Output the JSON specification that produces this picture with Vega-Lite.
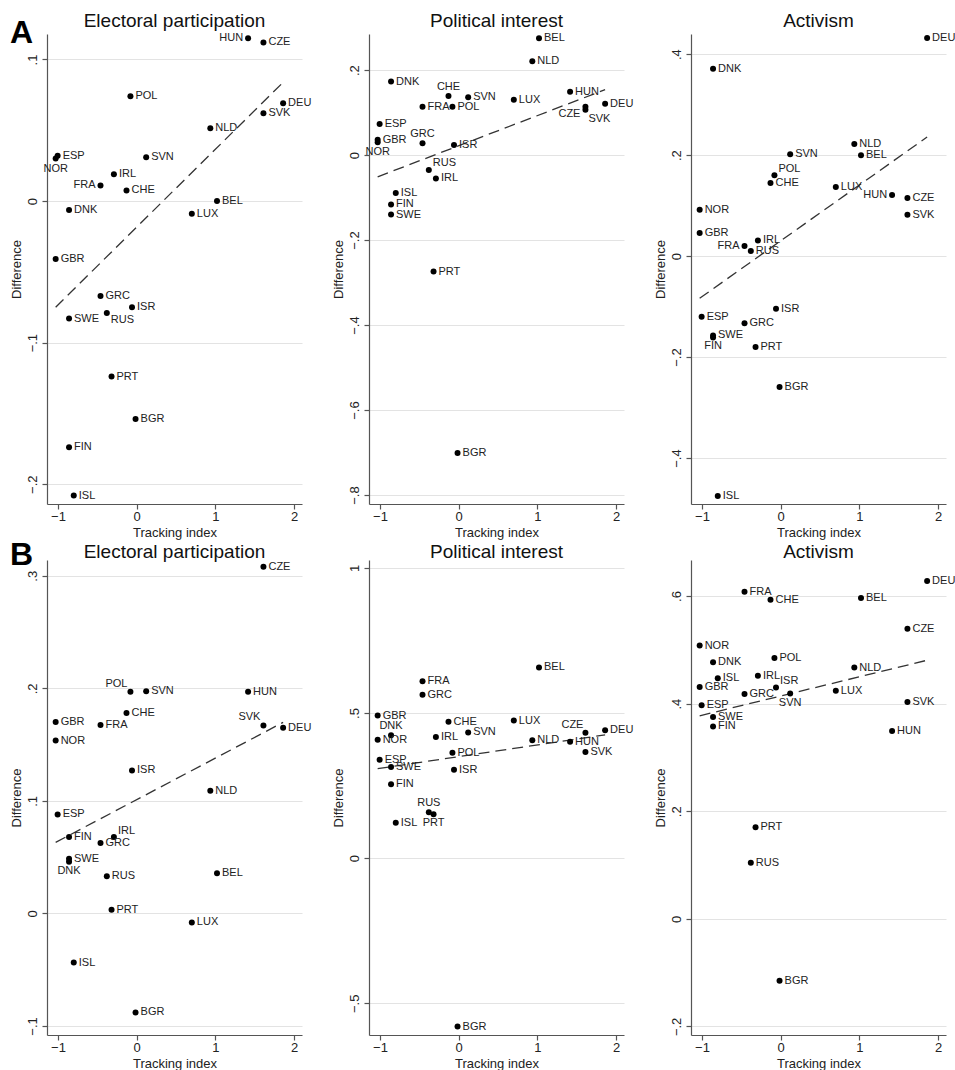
{
  "$schema": "https://vega.github.io/schema/vega-lite/v6.json",
  "background": "white",
  "padding": {"left": 10, "top": 12, "right": 0, "bottom": 0},
  "datasets": {
    "d": [
      {"c": "BEL", "x": 1.02, "a1": 0.0, "a2": 0.275, "a3": 0.200, "b1": 0.0356, "b2": 0.657, "b3": 0.5965},
      {"c": "NLD", "x": 0.935, "a1": 0.0515, "a2": 0.221, "a3": 0.222, "b1": 0.109, "b2": 0.406, "b3": 0.467},
      {"c": "DNK", "x": -0.86, "a1": -0.0064, "a2": 0.173, "a3": 0.371, "b1": 0.046, "b2": 0.423, "b3": 0.477},
      {"c": "CHE", "x": -0.13, "a1": 0.0075, "a2": 0.139, "a3": 0.145, "b1": 0.178, "b2": 0.470, "b3": 0.593},
      {"c": "SVN", "x": 0.12, "a1": 0.031, "a2": 0.136, "a3": 0.202, "b1": 0.1975, "b2": 0.433, "b3": 0.419},
      {"c": "LUX", "x": 0.70, "a1": -0.009, "a2": 0.130, "a3": 0.137, "b1": -0.008, "b2": 0.474, "b3": 0.424},
      {"c": "HUN", "x": 1.415, "a1": 0.115, "a2": 0.149, "a3": 0.121, "b1": 0.197, "b2": 0.401, "b3": 0.349},
      {"c": "FRA", "x": -0.46, "a1": 0.011, "a2": 0.114, "a3": 0.020, "b1": 0.1675, "b2": 0.609, "b3": 0.608},
      {"c": "POL", "x": -0.08, "a1": 0.074, "a2": 0.114, "a3": 0.160, "b1": 0.197, "b2": 0.363, "b3": 0.485},
      {"c": "DEU", "x": 1.86, "a1": 0.069, "a2": 0.121, "a3": 0.432, "b1": 0.165, "b2": 0.441, "b3": 0.628},
      {"c": "CZE", "x": 1.61, "a1": 0.112, "a2": 0.114, "a3": 0.115, "b1": 0.308, "b2": 0.432, "b3": 0.539},
      {"c": "SVK", "x": 1.61, "a1": 0.062, "a2": 0.107, "a3": 0.082, "b1": 0.167, "b2": 0.3655, "b3": 0.403},
      {"c": "ESP", "x": -1.005, "a1": 0.032, "a2": 0.073, "a3": -0.120, "b1": 0.088, "b2": 0.339, "b3": 0.397},
      {"c": "GBR", "x": -1.03, "a1": -0.041, "a2": 0.036, "a3": 0.046, "b1": 0.170, "b2": 0.491, "b3": 0.431},
      {"c": "NOR", "x": -1.03, "a1": 0.030, "a2": 0.030, "a3": 0.092, "b1": 0.1536, "b2": 0.408, "b3": 0.508},
      {"c": "GRC", "x": -0.46, "a1": -0.067, "a2": 0.028, "a3": -0.133, "b1": 0.0625, "b2": 0.563, "b3": 0.418},
      {"c": "ISR", "x": -0.06, "a1": -0.075, "a2": 0.024, "a3": -0.104, "b1": 0.127, "b2": 0.305, "b3": 0.430},
      {"c": "RUS", "x": -0.38, "a1": -0.079, "a2": -0.035, "a3": 0.010, "b1": 0.033, "b2": 0.158, "b3": 0.104},
      {"c": "IRL", "x": -0.29, "a1": 0.019, "a2": -0.055, "a3": 0.031, "b1": 0.068, "b2": 0.417, "b3": 0.452},
      {"c": "ISL", "x": -0.80, "a1": -0.208, "a2": -0.089, "a3": -0.475, "b1": -0.0436, "b2": 0.122, "b3": 0.447},
      {"c": "FIN", "x": -0.86, "a1": -0.174, "a2": -0.116, "a3": -0.161, "b1": 0.068, "b2": 0.255, "b3": 0.3575},
      {"c": "SWE", "x": -0.86, "a1": -0.083, "a2": -0.140, "a3": -0.157, "b1": 0.0486, "b2": 0.314, "b3": 0.375},
      {"c": "PRT", "x": -0.32, "a1": -0.124, "a2": -0.274, "a3": -0.180, "b1": 0.0032, "b2": 0.151, "b3": 0.170},
      {"c": "BGR", "x": -0.015, "a1": -0.154, "a2": -0.701, "a3": -0.259, "b1": -0.088, "b2": -0.580, "b3": -0.115}
    ]
  },
  "data": {"name": "d"},
  "spacing": 0,
  "vconcat": [
    {
      "title": {"text": "A", "anchor": "start", "frame": "bounds", "fontSize": 32, "fontWeight": "bold", "color": "#000", "offset": -63, "baseline": "alphabetic"},
      "spacing": 67,
      "bounds": "flush",
      "hconcat": [
        {
          "width": 255, "height": 470,
          "title": {"text": "Electoral participation", "offset": 1},
          "encoding": {
            "x": {"field": "x", "type": "quantitative", "scale": {"domain": [-1.14, 2.1], "nice": false, "zero": false}, "axis": {"title": "Tracking index", "values": [-1, 0, 1, 2], "format": "~g"}},
            "y": {"field": "a1", "type": "quantitative", "scale": {"domain": [-0.214, 0.118], "nice": false, "zero": false}, "axis": {"title": "Difference", "values": [-0.2, -0.1, 0, 0.1], "format": "~g", "labelExpr": "replace(datum.label, '0.', '.')"}}
          },
          "layer": [
            {"transform": [{"regression": "a1", "on": "x"}], "mark": {"type": "line", "strokeDash": [11, 6], "color": "#333", "strokeWidth": 1.3}, "encoding": {}},
            {"mark": {"type": "circle", "size": 36, "color": "#000", "opacity": 1}},
            {"transform": [{"filter": "indexof(['HUN','FRA','NOR','RUS'], datum.c) < 0"}], "mark": {"type": "text", "align": "left", "baseline": "middle", "dx": 5}, "encoding": {"text": {"field": "c"}}},
            {"transform": [{"filter": "indexof(['HUN','FRA'], datum.c) >= 0"}], "mark": {"type": "text", "align": "right", "baseline": "middle", "dx": -5}, "encoding": {"text": {"field": "c"}}},
            {"transform": [{"filter": "datum.c == 'NOR'"}], "mark": {"type": "text", "align": "center", "baseline": "middle", "dy": 10}, "encoding": {"text": {"field": "c"}}},
            {"transform": [{"filter": "datum.c == 'RUS'"}], "mark": {"type": "text", "align": "left", "baseline": "middle", "dx": 4, "dy": 7}, "encoding": {"text": {"field": "c"}}}
          ]
        },
        {
          "width": 255, "height": 470,
          "title": {"text": "Political interest", "offset": 1},
          "encoding": {
            "x": {"field": "x", "type": "quantitative", "scale": {"domain": [-1.14, 2.1], "nice": false, "zero": false}, "axis": {"title": "Tracking index", "values": [-1, 0, 1, 2], "format": "~g"}},
            "y": {"field": "a2", "type": "quantitative", "scale": {"domain": [-0.821, 0.285], "nice": false, "zero": false}, "axis": {"title": "Difference", "values": [-0.8, -0.6, -0.4, -0.2, 0, 0.2], "format": "~g", "labelExpr": "replace(datum.label, '0.', '.')"}}
          },
          "layer": [
            {"transform": [{"regression": "a2", "on": "x"}], "mark": {"type": "line", "strokeDash": [11, 6], "color": "#333", "strokeWidth": 1.3}, "encoding": {}},
            {"mark": {"type": "circle", "size": 36, "color": "#000", "opacity": 1}},
            {"transform": [{"filter": "indexof(['CHE','GRC','NOR','CZE','SVK','RUS'], datum.c) < 0"}], "mark": {"type": "text", "align": "left", "baseline": "middle", "dx": 5}, "encoding": {"text": {"field": "c"}}},
            {"transform": [{"filter": "indexof(['CHE','GRC'], datum.c) >= 0"}], "mark": {"type": "text", "align": "center", "baseline": "middle", "dy": -9}, "encoding": {"text": {"field": "c"}}},
            {"transform": [{"filter": "datum.c == 'NOR'"}], "mark": {"type": "text", "align": "center", "baseline": "middle", "dy": 10}, "encoding": {"text": {"field": "c"}}},
            {"transform": [{"filter": "datum.c == 'CZE'"}], "mark": {"type": "text", "align": "right", "baseline": "middle", "dx": -5, "dy": 7}, "encoding": {"text": {"field": "c"}}},
            {"transform": [{"filter": "datum.c == 'SVK'"}], "mark": {"type": "text", "align": "left", "baseline": "middle", "dx": 3, "dy": 9}, "encoding": {"text": {"field": "c"}}},
            {"transform": [{"filter": "datum.c == 'RUS'"}], "mark": {"type": "text", "align": "left", "baseline": "middle", "dx": 4, "dy": -7}, "encoding": {"text": {"field": "c"}}}
          ]
        },
        {
          "width": 255, "height": 470,
          "title": {"text": "Activism", "offset": 1},
          "encoding": {
            "x": {"field": "x", "type": "quantitative", "scale": {"domain": [-1.14, 2.1], "nice": false, "zero": false}, "axis": {"title": "Tracking index", "values": [-1, 0, 1, 2], "format": "~g"}},
            "y": {"field": "a3", "type": "quantitative", "scale": {"domain": [-0.491, 0.44], "nice": false, "zero": false}, "axis": {"title": "Difference", "values": [-0.4, -0.2, 0, 0.2, 0.4], "format": "~g", "labelExpr": "replace(datum.label, '0.', '.')"}}
          },
          "layer": [
            {"transform": [{"regression": "a3", "on": "x"}], "mark": {"type": "line", "strokeDash": [11, 6], "color": "#333", "strokeWidth": 1.3}, "encoding": {}},
            {"mark": {"type": "circle", "size": 36, "color": "#000", "opacity": 1}},
            {"transform": [{"filter": "indexof(['HUN','FRA','POL','FIN'], datum.c) < 0"}], "mark": {"type": "text", "align": "left", "baseline": "middle", "dx": 5}, "encoding": {"text": {"field": "c"}}},
            {"transform": [{"filter": "indexof(['HUN','FRA'], datum.c) >= 0"}], "mark": {"type": "text", "align": "right", "baseline": "middle", "dx": -5}, "encoding": {"text": {"field": "c"}}},
            {"transform": [{"filter": "datum.c == 'POL'"}], "mark": {"type": "text", "align": "left", "baseline": "middle", "dx": 4, "dy": -6}, "encoding": {"text": {"field": "c"}}},
            {"transform": [{"filter": "datum.c == 'FIN'"}], "mark": {"type": "text", "align": "center", "baseline": "middle", "dy": 9}, "encoding": {"text": {"field": "c"}}}
          ]
        }
      ]
    },
    {
      "title": {"text": "B", "anchor": "start", "frame": "bounds", "fontSize": 32, "fontWeight": "bold", "color": "#000", "offset": 0, "dy": 54, "baseline": "alphabetic"},
      "spacing": 67,
      "bounds": "flush",
      "hconcat": [
        {
          "width": 255, "height": 475,
          "title": {"text": "Electoral participation", "offset": -2},
          "encoding": {
            "x": {"field": "x", "type": "quantitative", "scale": {"domain": [-1.14, 2.1], "nice": false, "zero": false}, "axis": {"title": "Tracking index", "values": [-1, 0, 1, 2], "format": "~g"}},
            "y": {"field": "b1", "type": "quantitative", "scale": {"domain": [-0.108, 0.314], "nice": false, "zero": false}, "axis": {"title": "Difference", "values": [-0.1, 0, 0.1, 0.2, 0.3], "format": "~g", "labelExpr": "replace(datum.label, '0.', '.')"}}
          },
          "layer": [
            {"transform": [{"regression": "b1", "on": "x"}], "mark": {"type": "line", "strokeDash": [11, 6], "color": "#333", "strokeWidth": 1.3}, "encoding": {}},
            {"mark": {"type": "circle", "size": 36, "color": "#000", "opacity": 1}},
            {"transform": [{"filter": "indexof(['POL','SVK','DNK','IRL'], datum.c) < 0"}], "mark": {"type": "text", "align": "left", "baseline": "middle", "dx": 5}, "encoding": {"text": {"field": "c"}}},
            {"transform": [{"filter": "indexof(['POL','SVK'], datum.c) >= 0"}], "mark": {"type": "text", "align": "right", "baseline": "middle", "dx": -3, "dy": -8}, "encoding": {"text": {"field": "c"}}},
            {"transform": [{"filter": "datum.c == 'DNK'"}], "mark": {"type": "text", "align": "center", "baseline": "middle", "dy": 9}, "encoding": {"text": {"field": "c"}}},
            {"transform": [{"filter": "datum.c == 'IRL'"}], "mark": {"type": "text", "align": "left", "baseline": "middle", "dx": 4, "dy": -6}, "encoding": {"text": {"field": "c"}}}
          ]
        },
        {
          "width": 255, "height": 475,
          "title": {"text": "Political interest", "offset": -2},
          "encoding": {
            "x": {"field": "x", "type": "quantitative", "scale": {"domain": [-1.14, 2.1], "nice": false, "zero": false}, "axis": {"title": "Tracking index", "values": [-1, 0, 1, 2], "format": "~g"}},
            "y": {"field": "b2", "type": "quantitative", "scale": {"domain": [-0.609, 1.027], "nice": false, "zero": false}, "axis": {"title": "Difference", "values": [-0.5, 0, 0.5, 1], "format": "~g", "labelExpr": "replace(datum.label, '0.', '.')"}}
          },
          "layer": [
            {"transform": [{"regression": "b2", "on": "x"}], "mark": {"type": "line", "strokeDash": [11, 6], "color": "#333", "strokeWidth": 1.3}, "encoding": {}},
            {"mark": {"type": "circle", "size": 36, "color": "#000", "opacity": 1}},
            {"transform": [{"filter": "indexof(['DNK','RUS','PRT','CZE'], datum.c) < 0"}], "mark": {"type": "text", "align": "left", "baseline": "middle", "dx": 5}, "encoding": {"text": {"field": "c"}}},
            {"transform": [{"filter": "indexof(['DNK','RUS'], datum.c) >= 0"}], "mark": {"type": "text", "align": "center", "baseline": "middle", "dy": -9}, "encoding": {"text": {"field": "c"}}},
            {"transform": [{"filter": "datum.c == 'PRT'"}], "mark": {"type": "text", "align": "center", "baseline": "middle", "dy": 9}, "encoding": {"text": {"field": "c"}}},
            {"transform": [{"filter": "datum.c == 'CZE'"}], "mark": {"type": "text", "align": "right", "baseline": "middle", "dx": -2, "dy": -8}, "encoding": {"text": {"field": "c"}}}
          ]
        },
        {
          "width": 255, "height": 475,
          "title": {"text": "Activism", "offset": -2},
          "encoding": {
            "x": {"field": "x", "type": "quantitative", "scale": {"domain": [-1.14, 2.1], "nice": false, "zero": false}, "axis": {"title": "Tracking index", "values": [-1, 0, 1, 2], "format": "~g"}},
            "y": {"field": "b3", "type": "quantitative", "scale": {"domain": [-0.216, 0.667], "nice": false, "zero": false}, "axis": {"title": "Difference", "values": [-0.2, 0, 0.2, 0.4, 0.6], "format": "~g", "labelExpr": "replace(datum.label, '0.', '.')"}}
          },
          "layer": [
            {"transform": [{"regression": "b3", "on": "x"}], "mark": {"type": "line", "strokeDash": [11, 6], "color": "#333", "strokeWidth": 1.3}, "encoding": {}},
            {"mark": {"type": "circle", "size": 36, "color": "#000", "opacity": 1}},
            {"transform": [{"filter": "indexof(['ISR','SVN'], datum.c) < 0"}], "mark": {"type": "text", "align": "left", "baseline": "middle", "dx": 5}, "encoding": {"text": {"field": "c"}}},
            {"transform": [{"filter": "datum.c == 'ISR'"}], "mark": {"type": "text", "align": "left", "baseline": "middle", "dx": 4, "dy": -6}, "encoding": {"text": {"field": "c"}}},
            {"transform": [{"filter": "datum.c == 'SVN'"}], "mark": {"type": "text", "align": "center", "baseline": "middle", "dy": 10}, "encoding": {"text": {"field": "c"}}}
          ]
        }
      ]
    }
  ],
  "config": {
    "font": "Liberation Sans",
    "view": {"stroke": null},
    "axis": {"domainColor": "#555", "tickColor": "#555", "labelColor": "#222", "titleColor": "#222", "labelFontSize": 13, "titleFontSize": 13, "titleFontWeight": "normal", "tickSize": 5, "domainWidth": 1.2, "tickWidth": 1.2, "labelFont": "Liberation Sans", "titleFont": "Liberation Sans"},
    "axisX": {"grid": false, "labelPadding": 1, "titlePadding": 3},
    "axisY": {"grid": true, "gridColor": "#e3e3e3", "gridWidth": 1, "labelAngle": -90, "labelAlign": "center", "labelBaseline": "bottom", "labelPadding": 3, "titlePadding": 3},
    "title": {"fontSize": 19, "fontWeight": "normal", "color": "#111", "font": "Liberation Sans"},
    "text": {"fontSize": 11, "font": "Liberation Sans", "color": "#222"}
  }
}
